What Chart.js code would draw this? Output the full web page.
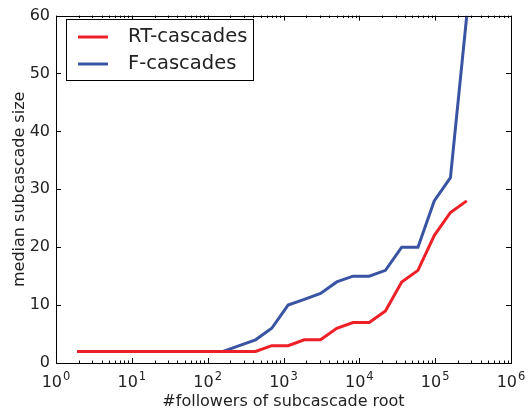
<!DOCTYPE html>
<html>
<head>
<meta charset="utf-8">
<script src="https://cdn.jsdelivr.net/npm/chart.js@4.4.1/dist/chart.umd.min.js"></script>
<style>
  html, body { margin: 0; padding: 0; background: #fff; }
  #wrap { width: 528px; height: 413px; }
</style>
</head>
<body>
<div id="wrap"><canvas id="chart" width="528" height="413"></canvas></div>
<script>
// #followers of subcascade root (bin positions)
var followers = [1.9, 3.1, 5.0, 8.3, 13.5, 22, 36, 60, 97, 160, 261, 428, 700,
    1150, 1880, 3080, 5040, 8250, 13500, 22100, 36200, 59300, 97200, 159000, 261000];
var rtMedian = [2, 2, 2, 2, 2, 2, 2, 2, 2, 2, 2, 2, 3,
    3, 4, 4, 6, 7, 7, 9, 14, 16, 22, 26, 28];
var fMedian = [2, 2, 2, 2, 2, 2, 2, 2, 2, 2, 3, 4, 6,
    10, 11, 12, 14, 15, 15, 16, 20, 20, 28, 32, 60];
var seriesNames = ["RT-cascades", "F-cascades"];
var seriesColors = ["#ee2027", "#3a54a4"];
var xTicks = [1, 10, 100, 1000, 10000, 100000, 1000000];
var yTicks = [0, 10, 20, 30, 40, 50, 60];

var textColor = "#222";
var fontFamily = "'DejaVu Sans', sans-serif";

function points(ys) {
    var out = [];
    for (var i = 0; i < ys.length; i++) {
        out.push({ x: followers[i], y: ys[i] });
    }
    return out;
}

// box, inward ticks (major + minor), 10^n labels and the framed legend
var framePlugin = {
    id: "frame",
    afterDatasetsDraw: function (chart) {
        var ctx = chart.ctx;
        var a = chart.chartArea;
        var xs = chart.scales.x, ys = chart.scales.y;
        ctx.save();
        ctx.strokeStyle = "#000";
        ctx.lineWidth = 1;
        ctx.beginPath();
        for (var d = 0; d < xTicks.length; d++) {
            var px = Math.round(xs.getPixelForValue(xTicks[d])) + 0.5;
            ctx.moveTo(px, a.bottom); ctx.lineTo(px, a.bottom - 5);
            ctx.moveTo(px, a.top); ctx.lineTo(px, a.top + 5);
            if (d < xTicks.length - 1) {
                for (var m = 2; m <= 9; m++) {
                    var mx = Math.round(xs.getPixelForValue(xTicks[d] * m)) + 0.5;
                    ctx.moveTo(mx, a.bottom); ctx.lineTo(mx, a.bottom - 2.5);
                    ctx.moveTo(mx, a.top); ctx.lineTo(mx, a.top + 2.5);
                }
            }
        }
        for (var k = 0; k < yTicks.length; k++) {
            var py = Math.round(ys.getPixelForValue(yTicks[k])) + 0.5;
            ctx.moveTo(a.left, py); ctx.lineTo(a.left + 5, py);
            ctx.moveTo(a.right, py); ctx.lineTo(a.right - 5, py);
        }
        ctx.stroke();
        ctx.strokeRect(Math.round(a.left) + 0.5, Math.round(a.top) + 0.5,
            Math.round(a.right - a.left), Math.round(a.bottom - a.top));

        // x tick labels as 10 with a raised exponent
        ctx.fillStyle = textColor;
        ctx.textBaseline = "alphabetic";
        ctx.textAlign = "left";
        for (var t = 0; t < xTicks.length; t++) {
            var cx = xs.getPixelForValue(xTicks[t]);
            var exp = String(Math.round(Math.log10(xTicks[t])));
            ctx.font = "16px " + fontFamily;
            var w1 = ctx.measureText("10").width;
            ctx.font = "11.5px " + fontFamily;
            var w2 = ctx.measureText(exp).width;
            var x0 = cx - (w1 + w2 + 1) / 2;
            ctx.font = "16px " + fontFamily;
            ctx.fillText("10", x0, a.bottom + 24);
            ctx.font = "11.5px " + fontFamily;
            ctx.fillText(exp, x0 + w1 + 1, a.bottom + 17);
        }

        // legend
        var lx = 66, ly = 19, lw = 187, lh = 61;
        ctx.fillStyle = "#fff";
        ctx.fillRect(lx, ly, lw, lh);
        ctx.strokeStyle = "#000";
        ctx.lineWidth = 1;
        ctx.strokeRect(lx + 0.5, ly + 0.5, lw, lh);
        ctx.font = "19.5px " + fontFamily;
        ctx.textBaseline = "middle";
        ctx.textAlign = "left";
        var ds = chart.data.datasets;
        for (var i = 0; i < ds.length; i++) {
            var yy = ly + 18 + i * 27;
            ctx.strokeStyle = ds[i].borderColor;
            ctx.lineWidth = 3;
            ctx.beginPath();
            ctx.moveTo(lx + 12, yy); ctx.lineTo(lx + 42, yy);
            ctx.stroke();
            ctx.fillStyle = textColor;
            ctx.fillText(ds[i].label, lx + 62, yy);
        }
        ctx.restore();
    }
};

var ctx = document.getElementById("chart").getContext("2d");
var chart = new Chart(ctx, {
    type: "line",
    data: {
        datasets: [{
            label: seriesNames[0],
            data: points(rtMedian),
            borderColor: seriesColors[0],
            borderWidth: 3,
            pointRadius: 0,
            tension: 0,
            fill: false
        }, {
            label: seriesNames[1],
            data: points(fMedian),
            borderColor: seriesColors[1],
            borderWidth: 3,
            pointRadius: 0,
            tension: 0,
            fill: false
        }]
    },
    options: {
        responsive: false,
        animation: false,
        layout: { padding: { left: 0, right: 17, top: 12, bottom: 0 } },
        plugins: {
            legend: { display: false },
            tooltip: { enabled: false }
        },
        scales: {
            x: {
                type: "logarithmic",
                min: 1,
                max: 1000000,
                afterBuildTicks: function (scale) {
                    scale.ticks = xTicks.map(function (v) { return { value: v }; });
                },
                afterFit: function (scale) { scale.height = 50; },
                grid: { display: false, drawTicks: false },
                border: { display: false },
                ticks: { display: false },
                title: {
                    display: true,
                    text: "#followers of subcascade root",
                    color: textColor,
                    font: { family: fontFamily, size: 16 },
                    padding: { top: 0, bottom: 2 }
                }
            },
            y: {
                min: 0,
                max: 60,
                afterBuildTicks: function (scale) {
                    scale.ticks = yTicks.map(function (v) { return { value: v }; });
                },
                afterFit: function (scale) { scale.width = 56; },
                grid: { display: false, drawTicks: false },
                border: { display: false },
                ticks: {
                    padding: 6,
                    color: textColor,
                    font: { family: fontFamily, size: 16 }
                },
                title: {
                    display: true,
                    text: "median subcascade size",
                    color: textColor,
                    font: { family: fontFamily, size: 16 },
                    padding: { top: 10, bottom: 0 }
                }
            }
        }
    },
    plugins: [framePlugin]
});
</script>
</body>
</html>
